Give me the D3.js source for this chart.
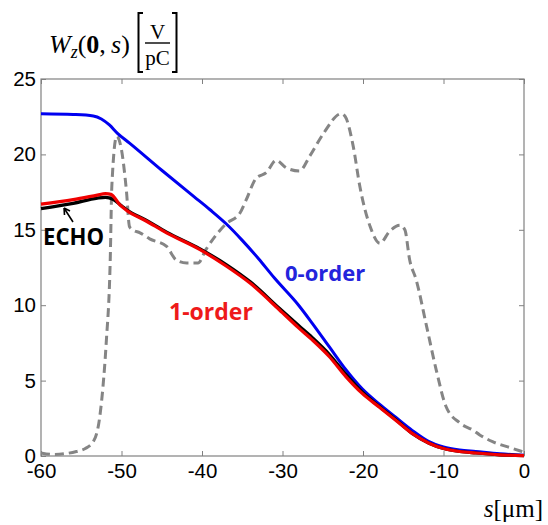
<!DOCTYPE html>
<html>
<head>
<meta charset="utf-8">
<script src="https://cdn.jsdelivr.net/npm/d3@7"></script>
<style>
  body { margin: 0; background: #fff; }
  svg { display: block; }
</style>
</head>
<body>
<svg id="chart"></svg>
<script>
// wake potential
const sBlue = [-60, -56, -53.5, -52.5, -51.5, -50.5, -49, -45, -41, -39, -37, -35, -33, -31, -28, -26.3, -24.2, -22.1, -20.1, -18, -15.9, -13.9, -11.8, -10, -8, -6, -3, 0];
const order0 = [22.7, 22.65, 22.55, 22.35, 21.95, 21.4, 20.75, 18.95, 17.2, 16.33, 15.4, 14.3, 13.1, 11.8, 10.0, 8.8, 7.25, 5.7, 4.45, 3.45, 2.55, 1.7, 0.95, 0.6, 0.4, 0.3, 0.15, 0.05];

const sRed = [-60, -56, -53, -52, -51.3, -50.2, -49.4, -47, -44.4, -40.3, -37, -34, -30.4, -28, -26.3, -24.2, -22.1, -20.1, -18, -15.9, -13.9, -11.8, -10, -8, -6, -3, 0];
const order1 = [16.7, 17.0, 17.3, 17.4, 17.35, 16.65, 16.3, 15.6, 14.8, 13.7, 12.6, 11.45, 9.7, 8.5, 7.7, 6.6, 5.25, 4.15, 3.25, 2.35, 1.5, 0.85, 0.5, 0.3, 0.2, 0.08, 0.02];

const sEcho = [-60, -56, -53, -52, -51, -50, -49.4, -47, -44.4, -40.3, -37, -34, -30.4, -28, -26.3, -24.2, -22.1, -20.1, -18, -15.9, -13.9, -11.8, -10, -8, -6, -3, 0];
const echo = [16.4, 16.75, 17.1, 17.15, 17.0, 16.6, 16.35, 15.65, 14.85, 13.75, 12.7, 11.55, 9.8, 8.65, 7.85, 6.75, 5.4, 4.25, 3.3, 2.4, 1.5, 0.85, 0.5, 0.3, 0.2, 0.08, 0.02];

// bunch current profile (grey dashed)
const sBunch = [-60, -58.5, -55.6, -54.5, -53.5, -52.7, -52.3, -51.9, -51.4, -51.2, -50.6, -50.0, -49.4, -49.0, -48.6, -47.7, -46.5, -44.4, -43.2, -41.9, -40.5, -39.5, -37, -35.3, -34.5, -33.3, -32, -30.8, -29.5, -27.9, -26.6, -24.9, -22.7, -22.2, -21.2, -20.4, -19.1, -17.9, -16.7, -15.4, -14.8, -14.2, -13.4, -12.1, -10.9, -9.7, -8, -6.3, -5.5, -3.9, -1.4, 0];
const bunch = [0.2, 0.1, 0.3, 0.5, 0.95, 2.6, 4.6, 7.5, 13.0, 17.9, 21.2, 20.3, 17.65, 15.2, 15.0, 14.8, 14.4, 13.9, 13.0, 12.8, 12.8, 13.7, 15.4, 16.1, 17.0, 18.4, 18.8, 19.6, 19.1, 18.9, 19.9, 21.4, 22.7, 22.5, 20.5, 17.9, 15.2, 14.1, 14.9, 15.3, 15.0, 13.0, 11.7, 8.6, 5.7, 3.3, 2.2, 1.7, 1.4, 0.95, 0.5, 0.25];

const xTicks = [-60, -50, -40, -30, -20, -10, 0];
const yTicks = [0, 5, 10, 15, 20, 25];

const width = 548, height = 525;
const margin = {top: 79, right: 24, bottom: 69, left: 41};

const svg = d3.select('#chart')
  .attr('width', width)
  .attr('height', height);

const x = d3.scaleLinear().domain([-60, 0]).range([margin.left, width - margin.right]);
const y = d3.scaleLinear().domain([0, 25]).range([height - margin.bottom, margin.top]);

const tickFont = g => g.selectAll('text')
  .attr('font-family', 'Liberation Sans, Arial, sans-serif')
  .attr('font-size', 20.5)
  .attr('fill', '#000');
const greyAxis = g => {
  g.select('.domain').remove();
  g.selectAll('line').attr('stroke', '#808080');
};
const plain = d => String(d);  // hyphen minus, like the original

// axes, ticks pointing inwards on every side
svg.append('g')
  .attr('transform', `translate(0,${y(0)})`)
  .call(d3.axisBottom(x).tickValues(xTicks).tickSize(-5).tickPadding(7).tickFormat(plain))
  .call(greyAxis).call(tickFont);
svg.append('g')
  .attr('transform', `translate(0,${y(25)})`)
  .call(d3.axisTop(x).tickValues(xTicks).tickSize(-5).tickFormat(''))
  .call(greyAxis);
svg.append('g')
  .attr('transform', `translate(${x(-60)},0)`)
  .call(d3.axisLeft(y).tickValues(yTicks).tickSize(-5).tickPadding(5).tickFormat(plain))
  .call(greyAxis).call(tickFont);
svg.append('g')
  .attr('transform', `translate(${x(0)},0)`)
  .call(d3.axisRight(y).tickValues(yTicks).tickSize(-5).tickFormat(''))
  .call(greyAxis);

svg.append('rect')
  .attr('x', x(-60)).attr('y', y(25))
  .attr('width', x(0) - x(-60)).attr('height', y(0) - y(25))
  .attr('fill', 'none').attr('stroke', '#808080').attr('stroke-width', 1.2);

const line = d3.line()
  .x(d => x(d[0]))
  .y(d => y(d[1]))
  .curve(d3.curveMonotoneX);

const plot = svg.append('g');

plot.append('path')
  .attr('d', line(d3.zip(sBunch, bunch)))
  .attr('fill', 'none')
  .attr('stroke', '#858585')
  .attr('stroke-width', 3)
  .attr('stroke-dasharray', '9,5');

plot.append('path')
  .attr('d', line(d3.zip(sBlue, order0)))
  .attr('fill', 'none')
  .attr('stroke', '#0000f0')
  .attr('stroke-width', 3);

plot.append('path')
  .attr('d', line(d3.zip(sEcho, echo)))
  .attr('fill', 'none')
  .attr('stroke', '#000')
  .attr('stroke-width', 3.2);

plot.append('path')
  .attr('d', line(d3.zip(sRed, order1)))
  .attr('fill', 'none')
  .attr('stroke', '#f00000')
  .attr('stroke-width', 3.2);

// curve labels
const labelFont = 'Open Sans, Noto Sans, sans-serif';
svg.append('text')
  .attr('x', 285).attr('y', 281)
  .attr('font-family', labelFont).attr('font-weight', 700).attr('font-size', 22)
  .attr('fill', '#2424dc')
  .text('0-order');
svg.append('text')
  .attr('x', 169).attr('y', 320)
  .attr('font-family', labelFont).attr('font-weight', 700).attr('font-size', 23)
  .attr('fill', '#ee1a1a')
  .text('1-order');
svg.append('text')
  .attr('x', 43).attr('y', 245)
  .attr('font-family', labelFont).attr('font-weight', 700).attr('font-size', 24)
  .attr('textLength', 61).attr('lengthAdjust', 'spacingAndGlyphs')
  .attr('fill', '#000')
  .text('ECHO');

// arrow from ECHO to the black curve
svg.append('path')
  .attr('d', 'M73,222 L64,208 M64,208 L64.5,215 M64,208 L70,211')
  .attr('fill', 'none').attr('stroke', '#000').attr('stroke-width', 1.6);

// y title  W_z(0,s) [V/pC]
const serif = 'Liberation Serif, Times New Roman, serif';
const title = svg.append('text')
  .attr('x', 49).attr('y', 53)
  .attr('font-family', serif).attr('font-size', 26);
title.append('tspan').attr('font-style', 'italic').text('W');
title.append('tspan').attr('font-style', 'italic').attr('font-size', 18).attr('dy', 5).text('z');
title.append('tspan').attr('dy', -5).text('(');
title.append('tspan').attr('font-weight', 700).text('0');
title.append('tspan').text(',\u2009');
title.append('tspan').attr('font-style', 'italic').text('s');
title.append('tspan').text(')');

svg.append('path')
  .attr('d', 'M143,13 L138.5,13 L138.5,72 L143,72 M172,13 L176.5,13 L176.5,72 L172,72')
  .attr('fill', 'none').attr('stroke', '#000').attr('stroke-width', 2);
svg.append('line')
  .attr('x1', 145).attr('x2', 170).attr('y1', 43).attr('y2', 43)
  .attr('stroke', '#000').attr('stroke-width', 1.4);
svg.append('text')
  .attr('x', 157.5).attr('y', 39).attr('text-anchor', 'middle')
  .attr('font-family', serif).attr('font-size', 21)
  .text('V');
svg.append('text')
  .attr('x', 157.5).attr('y', 65).attr('text-anchor', 'middle')
  .attr('font-family', serif).attr('font-size', 21)
  .text('pC');

// x title  s[μm]
const xt = svg.append('text')
  .attr('x', 543).attr('y', 517).attr('text-anchor', 'end')
  .attr('font-family', serif).attr('font-size', 25);
xt.append('tspan').attr('font-style', 'italic').text('s');
xt.append('tspan').text('[μm]');
</script>
</body>
</html>
